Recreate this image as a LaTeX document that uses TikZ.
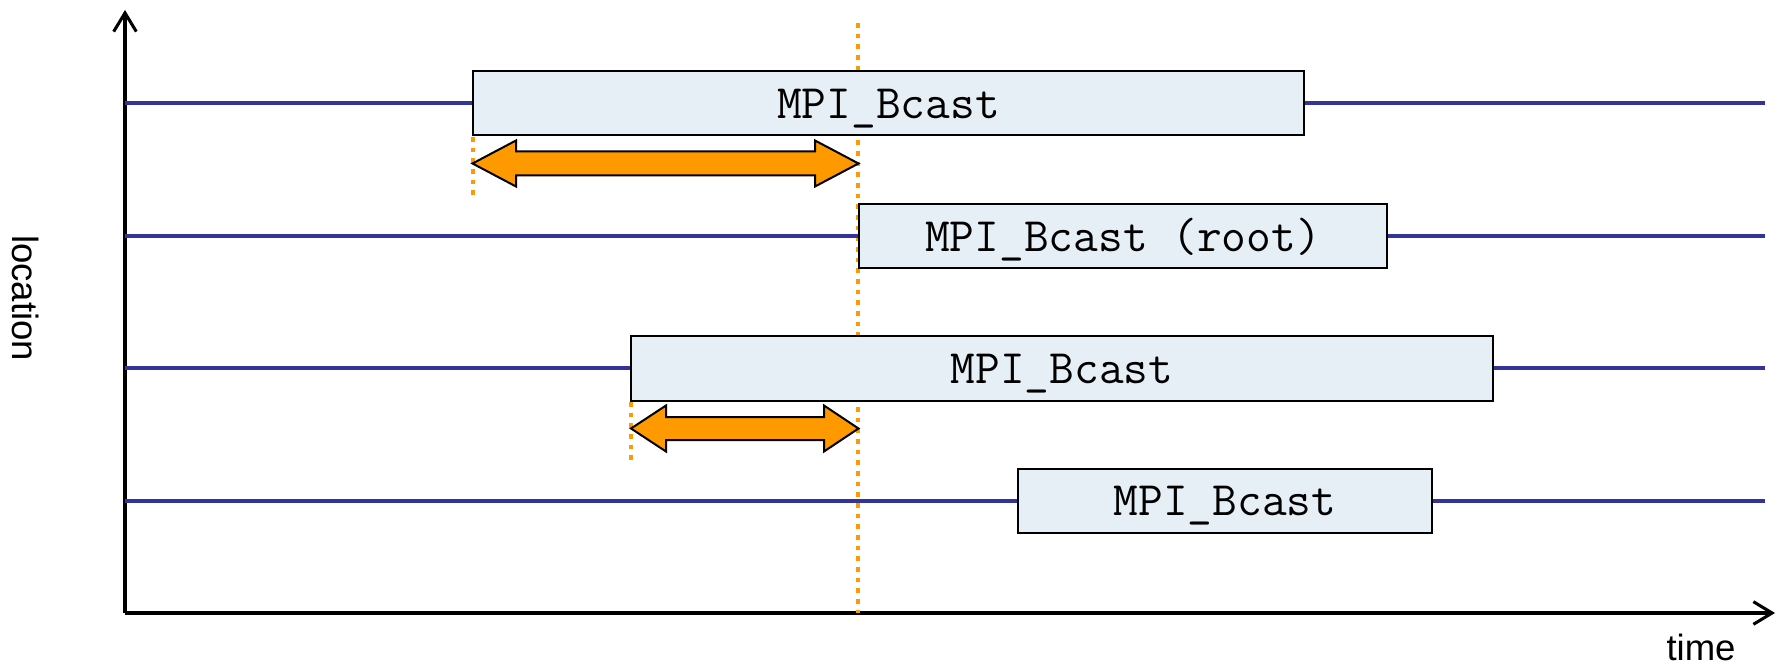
\documentclass[tikz,border=0pt]{standalone}
\usepackage{fontspec}
\setmainfont{Liberation Sans}
\usetikzlibrary{arrows.meta}
\definecolor{lane}{HTML}{333399}
\definecolor{callfill}{HTML}{E6EEF6}
\definecolor{waitorange}{HTML}{FF9900}
\tikzset{
  axis/.style={line width=2.3pt, -{Straight Barb[length=14pt,width=17pt,line width=2.3pt]}},
  lanebar/.style={draw=lane, line width=3pt},
  callbox/.style={draw=black, fill=callfill, line width=1.5pt, inner sep=0pt,
    minimum height=48pt, text height=23pt, text depth=0pt,
    font=\ttfamily\fontsize{36}{38}\selectfont},
  syncdots/.style={draw=waitorange, line width=3.4pt, dash pattern=on 3.4pt off 4.6pt},
  waitarrow/.style={draw=black, fill=waitorange, line width=1.5pt, line join=miter},
  axislabel/.style={font=\fontsize{27.4}{30}\selectfont}
}
\begin{document}
\begin{tikzpicture}[x=0.75pt, y=-0.75pt]
\useasboundingbox (0,0) rectangle (1777,666);

% axes
\coordinate (origin) at (125,613);
\coordinate (ytop) at (125,10);
\coordinate (xend) at (1775,613);
\draw[axis] (origin) -- (ytop);
\draw[axis] (origin) -- (xend);
\node[axislabel, rotate=-90] (loc) at (26,298) {location};
\node[axislabel, anchor=base] (time) at (1701,660) {time};

% synchronisation marks (behind the call boxes)
\coordinate (syncTop) at (858,23);
\coordinate (syncBot) at (858,613);
\draw[syncdots] (syncTop) -- (syncBot);
\coordinate (s1a) at (473,137);
\coordinate (s1b) at (473,195);
\draw[syncdots] (s1a) -- (s1b);
\coordinate (s3a) at (631,402);
\coordinate (s3b) at (631,460);
\draw[syncdots] (s3a) -- (s3b);

% the broadcast calls
\node[callbox, minimum width=623.25pt] (b1) at (888.5,103.3) {MPI\_Bcast};
\node[callbox, minimum width=396pt] (b2) at (1123,236) {MPI\_Bcast (root)};
\node[callbox, minimum width=646.5pt] (b3) at (1062,368.5) {MPI\_Bcast};
\node[callbox, minimum width=310.5pt] (b4) at (1225,500.5) {MPI\_Bcast};

% process time lines
\foreach \b/\y in {b1/103.3, b2/236, b3/368.5, b4/500.5}{
  \coordinate (\b start) at (125,\y);
  \coordinate (\b end) at (1765,\y);
  \draw[lanebar] (\b start) -- (\b.west);
  \draw[lanebar] (\b.east) -- (\b end);
}

% waiting times
\draw[waitarrow] (472.5,163.5) -- (516,140.5) -- (516,151.5) -- (815,151.5) -- (815,140.5)
  -- (858.5,163.5) -- (815,186.5) -- (815,175.5) -- (516,175.5) -- (516,186.5) -- cycle;
\draw[waitarrow] (631,428.5) -- (666,405.5) -- (666,417) -- (824,417) -- (824,405.5)
  -- (858.5,428.5) -- (824,451.5) -- (824,440) -- (666,440) -- (666,451.5) -- cycle;
\end{tikzpicture}
\end{document}
